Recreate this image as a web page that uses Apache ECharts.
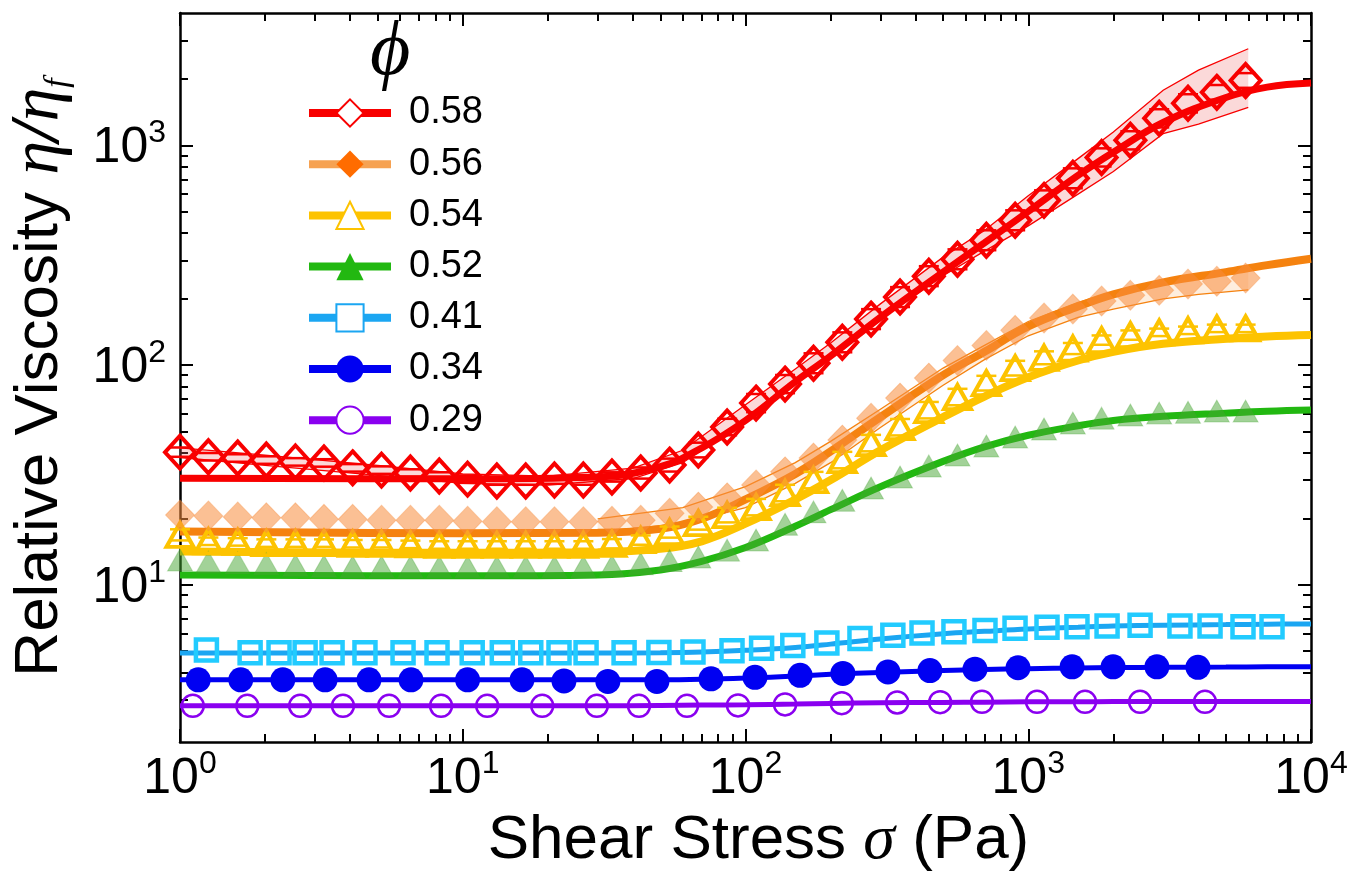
<!DOCTYPE html>
<html>
<head>
<meta charset="utf-8">
<title>Relative viscosity vs shear stress</title>
<script src="https://cdn.jsdelivr.net/npm/echarts@6/dist/echarts.min.js"></script>
<style>
  html, body { margin: 0; padding: 0; background: #fff; }
  #chart { width: 1353px; height: 888px; }
</style>
</head>
<body>
<div id="chart"></div>
<script>
// measured points for phi = 0.58 .. 0.52 share one stress grid (Pa)
var stressGrid = [1.00, 1.26, 1.60, 2.02, 2.56, 3.23, 4.08, 5.16, 6.53, 8.26, 10.4, 13.2, 16.7, 21.1, 26.7, 33.7, 42.6, 53.9, 68.1, 86.1,
  109, 138, 174, 220, 278, 352, 445, 562, 711, 899, 1137, 1438, 1817, 2297, 2905, 3673, 4644, 5871];
var visc58 = [40.2, 38.3, 37.8, 37.0, 36.3, 35.9, 34.1, 33.3, 32.3, 31.3, 30.3, 29.7, 29.7, 30.0, 30.0, 31.0, 32.3, 35.1, 41.1, 52.3,
  67.2, 82.0, 102, 127, 162, 204, 254, 303, 370, 456, 562, 708, 881, 1054, 1327, 1553, 1742, 1973];
var visc56 = [20.8, 20.6, 20.4, 20.2, 20.2, 19.9, 19.9, 19.7, 19.7, 19.7, 19.5, 19.4, 19.4, 19.4, 19.4, 19.5, 19.7, 21.2, 22.6, 24.9,
  28.5, 32.7, 37.8, 45.6, 57.4, 70.8, 87.3, 105, 123, 144, 164, 180, 196, 208, 219, 234, 241, 249];
var visc54 = [16.9, 15.8, 15.7, 15.5, 15.5, 15.5, 15.4, 15.4, 15.3, 15.2, 15.2, 15.2, 15.2, 15.2, 15.2, 15.4, 16.0, 17.4, 19.1, 20.8,
  22.6, 26.2, 30.0, 37.0, 44.2, 52.2, 62.4, 71.6, 82.8, 96.9, 108, 119, 130, 137, 141, 144, 147, 147];
var visc52 = [13.0, 12.7, 12.6, 12.5, 12.3, 12.2, 12.1, 12.1, 12.1, 12.1, 12.1, 12.1, 12.1, 12.1, 12.1, 12.2, 12.5, 12.9, 13.4, 14.4,
  16.0, 18.9, 21.5, 24.3, 27.6, 31.0, 34.8, 39.0, 42.9, 47.1, 51.2, 54.5, 57.4, 59.3, 60.5, 61.1, 61.8, 61.8];
// relative error bar half-widths
var err58 = [0.05, 0.04, 0.04, 0.04, 0.04, 0.04, 0.04, 0.04, 0.04, 0.04, 0.04, 0.04, 0.04, 0.04, 0.05, 0.05, 0.06, 0.07, 0.08, 0.09,
  0.10, 0.10, 0.11, 0.11, 0.11, 0.11, 0.11, 0.11, 0.11, 0.11, 0.11, 0.11, 0.10, 0.10, 0.10, 0.10, 0.08, 0.08];
var err54 = [0.06, 0.04, 0.04, 0.04, 0.04, 0.04, 0.04, 0.04, 0.04, 0.04, 0.04, 0.04, 0.04, 0.04, 0.04, 0.05, 0.05, 0.06, 0.07, 0.08,
  0.09, 0.09, 0.09, 0.09, 0.09, 0.09, 0.09, 0.09, 0.08, 0.08, 0.07, 0.06, 0.05, 0.05, 0.04, 0.04, 0.04, 0.04];

var stress41 = [1.24, 1.77, 2.24, 2.77, 3.45, 4.51, 6.15, 8.11, 10.8, 13.8, 17.4, 21.9, 27.3, 37.2, 49.4, 65.2, 89.6, 114, 147, 194,
  254, 332, 421, 546, 703, 898, 1165, 1487, 1900, 2486, 3440, 4395, 5748, 7280];
var visc41 = [5.06, 4.92, 4.92, 4.92, 4.92, 4.92, 4.92, 4.92, 4.92, 4.92, 4.92, 4.92, 4.92, 4.92, 4.93, 4.95, 5.02, 5.15, 5.30, 5.45,
  5.70, 5.90, 6.05, 6.12, 6.20, 6.35, 6.42, 6.45, 6.50, 6.55, 6.50, 6.50, 6.45, 6.45];
var stress34 = [1.16, 1.64, 2.31, 3.26, 4.66, 6.56, 10.4, 16.2, 22.8, 32.6, 48.6, 75.5, 108, 156, 221, 319, 449, 648, 920, 1429,
  1995, 2851, 3982];
var visc34 = [3.70, 3.70, 3.70, 3.70, 3.70, 3.70, 3.70, 3.70, 3.66, 3.64, 3.64, 3.74, 3.80, 3.88, 3.96, 4.02, 4.08, 4.14, 4.20, 4.24,
  4.24, 4.24, 4.22];
var stress29 = [1.11, 1.73, 2.66, 3.77, 5.49, 8.38, 12.2, 19.1, 29.8, 42.0, 62.1, 94.1, 138, 219, 344, 488, 686, 1074, 1588, 2486, 4217];
var visc29 = [2.82, 2.82, 2.82, 2.82, 2.82, 2.82, 2.82, 2.82, 2.82, 2.82, 2.82, 2.83, 2.86, 2.90, 2.92, 2.93, 2.94, 2.94, 2.94, 2.94, 2.94];

// model curves
var fitStress = [1, 10, 30, 50, 70, 100, 150, 200, 300, 500, 700, 1000, 1500, 2000, 3000, 5000, 7000, 10000];
var fit58 = [30.6, 30.4, 31, 34.5, 42, 56, 84, 110, 165, 265, 360, 500, 730, 930, 1270, 1650, 1840, 1920];
var fit56 = [17.5, 17.2, 17.3, 18, 20, 24.5, 32, 40.5, 58, 90, 115, 150, 185, 210, 238, 265, 285, 305];
var fit54 = [14.2, 14.0, 14.1, 14.6, 15.8, 19, 24.5, 30, 41, 58, 72, 88, 105, 115, 125, 132, 135, 137];
var fit52 = [11.1, 11.0, 11.1, 11.7, 12.8, 14.8, 18.5, 22, 28, 36.5, 42.5, 48, 53, 56, 58.5, 60.5, 61.7, 62.5];
var fit41 = [4.9, 4.9, 4.9, 4.92, 4.96, 5.05, 5.2, 5.38, 5.68, 6.0, 6.15, 6.3, 6.42, 6.5, 6.56, 6.6, 6.63, 6.65];
var fit34 = [3.70, 3.70, 3.70, 3.70, 3.72, 3.77, 3.85, 3.92, 4.0, 4.08, 4.12, 4.16, 4.19, 4.21, 4.22, 4.23, 4.24, 4.24];
var fit29 = [2.82, 2.82, 2.82, 2.83, 2.84, 2.85, 2.87, 2.89, 2.91, 2.92, 2.93, 2.94, 2.94, 2.95, 2.95, 2.95, 2.95, 2.95];

// spread of repeated runs
var band58Stress = [1, 2, 5, 10, 20, 40, 60, 100, 150, 200, 300, 500, 700, 1000, 1500, 2000, 3000, 4000, 6000];
var band58Low = [38, 35, 31.5, 29, 28.5, 30.5, 36, 56, 82, 108, 162, 255, 330, 430, 600, 760, 1130, 1250, 1490];
var band58High = [42, 39, 35, 32, 31.3, 34, 41, 66, 96, 126, 190, 310, 410, 590, 870, 1150, 1780, 2200, 2750];
var band56Stress = [30, 60, 100, 150, 200, 300, 500, 700, 1000, 1500, 2000, 3000, 4000, 6000];
var band56Low = [17.5, 19, 22.5, 29, 36, 52, 81, 106, 136, 165, 180, 200, 210, 220];
var band56High = [20, 22.5, 28, 36, 45, 63, 97, 123, 158, 193, 215, 242, 255, 268];

var xMajor = [1, 10, 100, 1000, 10000];
var xMinor = [2, 3, 4, 5, 6, 7, 8, 9, 20, 30, 40, 50, 60, 70, 80, 90, 200, 300, 400, 500, 600, 700, 800, 900,
  2000, 3000, 4000, 5000, 6000, 7000, 8000, 9000];
var yMajor = [10, 100, 1000];
var yMinor = [3, 4, 5, 6, 7, 8, 9, 20, 30, 40, 50, 60, 70, 80, 90, 200, 300, 400, 500, 600, 700, 800, 900, 2000, 3000];

var SANS = '"Liberation Sans", Arial, sans-serif';
var SERIF = '"Liberation Serif", "DejaVu Serif", serif';

function pairs(xs, ys) {
    return xs.map(function (x, i) { return [x, ys[i]]; });
}

var groups = [
    {name: '0.58', x: stressGrid, y: visc58, fit: fit58, line: '#f80000', lw: 7, symbol: 'diamond', legendSymbol: 'emptyDiamond',
        size: [30, 33], fill: 'rgba(0,0,0,0)', stroke: '#f80000', bw: 4},
    {name: '0.56', x: stressGrid, y: visc56, fit: fit56, line: '#f5820f', lw: 8, symbol: 'diamond', legendSymbol: 'diamond',
        size: [29, 30], fill: 'rgba(247,140,60,0.55)', stroke: 'rgba(247,140,60,0.35)', bw: 1,
        legendLine: '#f6a252', legendItem: '#ff6c00'},
    {name: '0.54', x: stressGrid, y: visc54, fit: fit54, line: '#fdc300', lw: 8, symbol: 'triangle', legendSymbol: 'emptyTriangle',
        size: [27, 24], fill: 'rgba(0,0,0,0)', stroke: '#fdc300', bw: 4},
    {name: '0.52', x: stressGrid, y: visc52, fit: fit52, line: '#22b811', lw: 7, symbol: 'triangle', legendSymbol: 'triangle',
        size: [25, 22], fill: 'rgba(70,165,50,0.5)', stroke: 'rgba(70,165,50,0.3)', bw: 1},
    {name: '0.41', x: stress41, y: visc41, fit: fit41, line: '#1ba6f2', lw: 5, symbol: 'rect', legendSymbol: 'emptyRect',
        size: [21, 21], fill: 'rgba(0,0,0,0)', stroke: '#22cbff', bw: 4.5},
    {name: '0.34', x: stress34, y: visc34, fit: fit34, line: '#0000f2', lw: 5, symbol: 'circle', legendSymbol: 'circle',
        size: 25, fill: '#0000f2', stroke: '#0000f2', bw: 0},
    {name: '0.29', x: stress29, y: visc29, fit: fit29, line: '#8a00f0', lw: 5, symbol: 'circle', legendSymbol: 'emptyCircle',
        size: 22, fill: 'rgba(0,0,0,0)', stroke: '#8a00f0', bw: 2.5}
];

function bandSeries(xs, lo, hi, fill, edge) {
    return {
        type: 'custom', silent: true, z: 1, clip: true,
        data: [[xs[0], lo[0]]],
        renderItem: function (params, api) {
            var top = xs.map(function (x, i) { return api.coord([x, hi[i]]); });
            var bot = xs.map(function (x, i) { return api.coord([x, lo[i]]); });
            return {
                type: 'group', children: [
                    {type: 'polygon', shape: {points: top.concat(bot.slice().reverse())}, style: {fill: fill}},
                    {type: 'polyline', shape: {points: top}, style: {stroke: edge, lineWidth: 1.3, fill: null}},
                    {type: 'polyline', shape: {points: bot}, style: {stroke: edge, lineWidth: 1.3, fill: null}}
                ]
            };
        }
    };
}

// error bar caps (the vertical bar itself hides behind the marker)
function capSeries(xs, ys, errs, color) {
    return {
        type: 'custom', silent: true, z: 3, clip: false,
        data: xs.map(function (x, i) { return [x, ys[i], errs[i]]; }),
        renderItem: function (params, api) {
            var x = api.value(0), y = api.value(1), e = api.value(2);
            var hi = api.coord([x, y * (1 + e)]);
            var lo = api.coord([x, y / (1 + e)]);
            var st = {stroke: color, lineWidth: 2.5};
            return {
                type: 'group', children: [
                    {type: 'line', shape: {x1: hi[0] - 10, y1: hi[1], x2: hi[0] + 10, y2: hi[1]}, style: st},
                    {type: 'line', shape: {x1: lo[0] - 10, y1: lo[1], x2: lo[0] + 10, y2: lo[1]}, style: st}
                ]
            };
        }
    };
}

var tickLine = {color: '#000', width: 2};

function powLabel(v) {
    return '{b|10}{s|' + Math.round(Math.log10(v)) + '}';
}
var powRich = {
    b: {fontSize: 50, fontFamily: SANS, color: '#000', lineHeight: 56, verticalAlign: 'bottom'},
    s: {fontSize: 32, fontFamily: SANS, color: '#000', lineHeight: 34, verticalAlign: 'top'}
};

function xAx(pos, major, withLine) {
    return {
        type: 'log', min: 1, max: 10000, position: pos,
        axisLine: {show: withLine, lineStyle: {color: '#000', width: 2.5}},
        axisTick: {inside: true, length: major ? 13 : 8, lineStyle: tickLine, customValues: major ? xMajor : xMinor},
        axisLabel: {show: false},
        splitLine: {show: false}
    };
}
function yAx(pos, major, withLine) {
    return {
        type: 'log', min: 1.93, max: 4000, position: pos,
        axisLine: {show: withLine, lineStyle: {color: '#000', width: 2.5}},
        axisTick: {inside: true, length: major ? 13 : 8, lineStyle: tickLine, customValues: major ? yMajor : yMinor},
        axisLabel: {show: false},
        splitLine: {show: false}
    };
}

var xAxes = [xAx('bottom', true, true), xAx('bottom', false, false), xAx('top', true, true), xAx('top', false, false)];
xAxes[0].axisLabel = {show: true, customValues: xMajor, formatter: powLabel, rich: powRich, margin: 6};
xAxes[0].name = '{a|Shear Stress }{m|σ}{a| (Pa)}';
xAxes[0].nameLocation = 'middle';
xAxes[0].nameGap = 58;
xAxes[0].nameTextStyle = {
    padding: [0, 0, 0, 26],
    rich: {
        a: {fontSize: 62, fontFamily: SANS, color: '#000'},
        m: {fontSize: 64, fontFamily: SERIF, fontStyle: 'italic', color: '#000'}
    }
};

var yAxes = [yAx('left', true, true), yAx('left', false, false), yAx('right', true, true), yAx('right', false, false)];
yAxes[0].axisLabel = {show: true, customValues: yMajor, formatter: powLabel, rich: powRich, margin: 14};
yAxes[0].name = '{a|Relative Viscosity }{m|η}{sl|/}{m|η}{f|f}';
yAxes[0].nameLocation = 'middle';
yAxes[0].nameGap = 105;
yAxes[0].nameTextStyle = {
    rich: {
        a: {fontSize: 62, fontFamily: SANS, color: '#000'},
        m: {fontSize: 68, fontFamily: SERIF, fontStyle: 'italic', color: '#000'},
        sl: {fontSize: 70, fontFamily: SERIF, fontStyle: 'italic', fontWeight: 'bold', color: '#000'},
        f: {fontSize: 34, fontFamily: SERIF, fontStyle: 'italic', color: '#000', lineHeight: 34, verticalAlign: 'bottom'}
    }
};

var series = [
    bandSeries(band56Stress, band56Low, band56High, 'rgba(252,205,160,0.35)', '#f5820f'),
    bandSeries(band58Stress, band58Low, band58High, 'rgba(240,120,120,0.28)', '#f80000')
];
// model lines first so the legend picks them up
groups.slice().reverse().forEach(function (g) {
    series.push({
        name: g.name, type: 'line', z: 2, data: pairs(fitStress, g.fit),
        smooth: 0.4, symbol: g.legendSymbol, showSymbol: false, silent: true,
        lineStyle: {color: g.line, width: g.lw},
        itemStyle: {color: g.line}
    });
});
series.push(capSeries(stressGrid, visc54, err54, '#fdc300'));
series.push(capSeries(stressGrid, visc58, err58, '#f80000'));
groups.slice().reverse().forEach(function (g) {
    series.push({
        name: g.name, type: 'scatter', z: 3, data: pairs(g.x, g.y), clip: false, silent: true,
        symbol: g.symbol, symbolSize: g.size,
        itemStyle: {color: g.fill, borderColor: g.stroke, borderWidth: g.bw, opacity: 1}
    });
});

var legendData = groups.map(function (g) {
    var item = {name: g.name};
    if (g.legendLine) {
        item.lineStyle = {color: g.legendLine};
        item.itemStyle = {color: g.legendItem};
    }
    return item;
});

var chart = echarts.init(document.getElementById('chart'));
chart.setOption({
    animation: false,
    backgroundColor: '#fff',
    grid: {left: 180, right: 42, top: 13, bottom: 146, outerBoundsMode: 'none'},
    graphic: [{
        type: 'text', left: 370, top: 14,
        style: {text: 'ϕ', font: 'italic 78px "Liberation Serif", "DejaVu Serif", serif', fill: '#000'}
    }],
    legend: {
        orient: 'vertical', left: 300, top: 89, itemWidth: 82, itemHeight: 34, itemGap: 13.2,
        selectedMode: false,
        lineStyle: {width: 8},
        textStyle: {fontSize: 38, fontFamily: SANS, color: '#000', padding: [0, 0, 0, 13]},
        data: legendData
    },
    xAxis: xAxes,
    yAxis: yAxes,
    series: series
});
</script>
</body>
</html>
